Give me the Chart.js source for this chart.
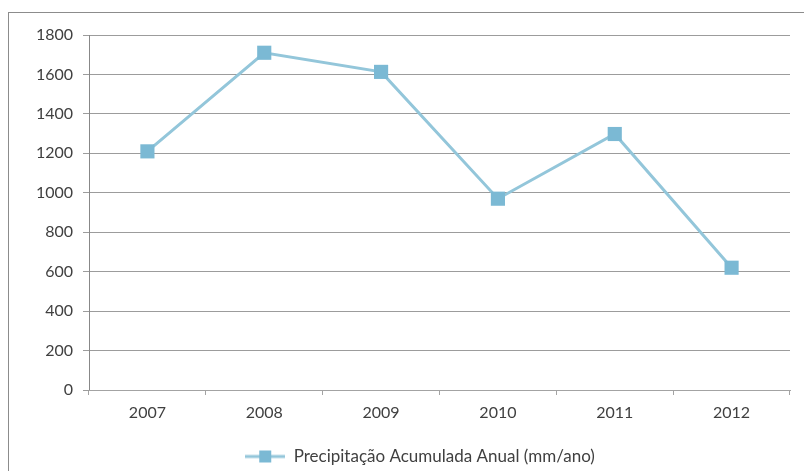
<!DOCTYPE html>
<html>
<head>
<meta charset="utf-8">
<script src="https://cdn.jsdelivr.net/npm/chart.js@4/dist/chart.umd.min.js"></script>
<style>
  html, body { margin: 0; padding: 0; background: #fff; overflow: hidden; }
  #wrap { position: relative; width: 804px; height: 471px; }
  #frame {
    position: absolute; left: 8px; top: 12px; width: 900px; height: 600px;
    border-top: 1px solid #8c8c8c; border-left: 1px solid #8c8c8c;
  }
  #chart { position: absolute; left: 0; top: 0; }
</style>
</head>
<body>
<div id="wrap">
  <div id="frame"></div>
  <canvas id="chart" width="804" height="471"></canvas>
</div>
<script>
const years = ['2007', '2008', '2009', '2010', '2011', '2012'];

// precipitação acumulada anual (mm/ano)
const precip = [1210, 1710, 1613, 970, 1298, 620];

const seriesName = 'Precipitação Acumulada Anual (mm/ano)';

const lineColor = '#93c6da';
const markerColor = '#7bb9d4';
const textColor = '#404040';

Chart.defaults.font.family = 'Lato, "Open Sans", sans-serif';
Chart.defaults.font.size = 16;

// legend icon: short line with a square marker in the middle
const icon = document.createElement('canvas');
icon.width = 40;
icon.height = 16;
(function () {
  const c = icon.getContext('2d');
  c.strokeStyle = lineColor;
  c.lineWidth = 3;
  c.beginPath();
  c.moveTo(0, 8);
  c.lineTo(40, 8);
  c.stroke();
  c.fillStyle = markerColor;
  c.fillRect(14, 2, 12, 12);
})();

// nudge the legend a little to the right of the canvas centre
const legendShift = {
  id: 'legendShift',
  afterLayout(ch) {
    ch.legend.left += 25;
    ch.legend.right += 25;
  }
};

const chart = new Chart(document.getElementById('chart'), {
  type: 'line',
  data: {
    labels: years,
    datasets: [{
      label: seriesName,
      data: precip,
      borderColor: lineColor,
      borderWidth: 3,
      backgroundColor: markerColor,
      pointStyle: 'rect',
      pointRadius: 10,
      pointHoverRadius: 10,
      pointBorderWidth: 0,
      pointBackgroundColor: markerColor,
      tension: 0
    }]
  },
  plugins: [legendShift],
  options: {
    responsive: false,
    animation: false,
    layout: { padding: { left: 0, top: 35, right: 14, bottom: -4 } },
    scales: {
      y: {
        min: 0,
        max: 1800,
        afterFit: (s) => { s.width = 89; },
        ticks: {
          stepSize: 200,
          color: textColor,
          padding: 10,
          callback: (v) => String(v)
        },
        grid: { color: '#9c9c9c', lineWidth: 1, tickLength: 6 },
        border: { color: '#888888', width: 1 }
      },
      x: {
        offset: true,
        afterFit: (s) => { s.height = 48; },
        ticks: { color: textColor, padding: 8 },
        grid: { offset: true, drawOnChartArea: false, tickLength: 5, color: '#a3a3a3' },
        border: { color: '#a3a3a3', width: 1 }
      }
    },
    plugins: {
      tooltip: { enabled: false },
      legend: {
        position: 'bottom',
        labels: {
          color: textColor,
          font: { size: 17 },
          usePointStyle: true,
          pointStyleWidth: 40,
          padding: 10,
          generateLabels: (ch) => ch.data.datasets.map((ds, i) => ({
            text: ds.label,
            pointStyle: icon,
            fontColor: textColor,
            datasetIndex: i,
            hidden: false
          }))
        }
      }
    }
  }
});
</script>
</body>
</html>
